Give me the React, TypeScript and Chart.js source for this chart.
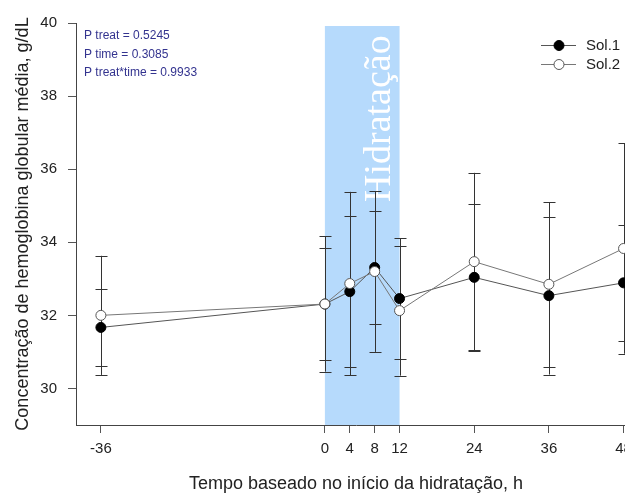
import React, { useEffect, useRef } from "react";
import { Chart, registerables } from "chart.js";

Chart.register(...registerables);

// ---- data ----
const hours = [-36, 0, 4, 8, 12, 24, 36, 48];
const sol1Mean = [31.67, 32.31, 32.65, 33.31, 32.46, 33.04, 32.54, 32.89];
const sol1Sd = [1.06, 1.85, 2.07, 1.55, 1.65, 2.01, 2.16, 1.59];
const sol2Mean = [32.0, 32.31, 32.87, 33.2, 32.13, 33.47, 32.85, 33.83];
const sol2Sd = [1.63, 1.54, 2.51, 2.2, 1.78, 2.43, 2.25, 2.88];
const seriesLabels = ["Sol.1", "Sol.2"];
const xTicks = [-36, 0, 4, 8, 12, 24, 36, 48];
const yTicks = [30, 32, 34, 36, 38, 40];
const hydrationWindow = [0, 12];
const hydrationLabel = "Hidratação";
const pValueLines = ["P treat = 0.5245", "P time = 0.3085", "P treat*time = 0.9933"];
const xTitle = "Tempo baseado no início da hidratação, h";
const yTitle = "Concentração de hemoglobina globular média, g/dL";

const SANS = '"Liberation Sans", Arial, sans-serif';
const SERIF = '"Liberation Serif", "Times New Roman", serif';
const errors = [sol1Sd, sol2Sd];
const means = [sol1Mean, sol2Mean];

const backdropPlugin = {
  id: "backdrop",
  beforeDatasetsDraw(chart: any) {
    const { ctx, chartArea, scales } = chart;
    const xs = scales.x;
    const ys = scales.y;
    const x0 = xs.getPixelForValue(hydrationWindow[0]);
    const x1 = xs.getPixelForValue(hydrationWindow[1]);
    ctx.save();
    // hydration band
    ctx.fillStyle = "#b6dafc";
    ctx.fillRect(x0, chartArea.top + 3, x1 - x0, chartArea.bottom - chartArea.top - 3);
    // band label
    ctx.save();
    ctx.translate(x1 - 10, chartArea.top + 179);
    ctx.rotate(-Math.PI / 2);
    ctx.font = `38px ${SERIF}`;
    ctx.fillStyle = "#ffffff";
    ctx.textAlign = "left";
    ctx.textBaseline = "alphabetic";
    ctx.fillText(hydrationLabel, 0, 0);
    ctx.restore();
    // error bars
    ctx.strokeStyle = "#333333";
    ctx.lineWidth = 1;
    chart.data.datasets.forEach((ds: any, di: number) => {
      const meta = chart.getDatasetMeta(di);
      meta.data.forEach((pt: any, j: number) => {
        const x = Math.round(pt.x) + 0.5;
        const yt = ys.getPixelForValue(means[di][j] + errors[di][j]);
        const yb = ys.getPixelForValue(means[di][j] - errors[di][j]);
        ctx.beginPath();
        ctx.moveTo(x, yt);
        ctx.lineTo(x, yb);
        ctx.moveTo(x - 6, Math.round(yt) + 0.5);
        ctx.lineTo(x + 6, Math.round(yt) + 0.5);
        ctx.moveTo(x - 6, Math.round(yb) + 0.5);
        ctx.lineTo(x + 6, Math.round(yb) + 0.5);
        ctx.stroke();
      });
    });
    ctx.restore();
  },
  afterDraw(chart: any) {
    const { ctx } = chart;
    ctx.save();
    // p-value annotation
    ctx.font = `12px ${SANS}`;
    ctx.fillStyle = "#33338f";
    ctx.textAlign = "left";
    ctx.textBaseline = "middle";
    pValueLines.forEach((t, i) => ctx.fillText(t, 84, 36 + i * 18.5));
    // legend
    chart.data.datasets.forEach((ds: any, i: number) => {
      const y = 45.5 + i * 19;
      ctx.strokeStyle = ds.borderColor;
      ctx.lineWidth = 1;
      ctx.beginPath();
      ctx.moveTo(541, y);
      ctx.lineTo(576, y);
      ctx.stroke();
      ctx.beginPath();
      ctx.arc(559, y, 5, 0, Math.PI * 2);
      ctx.fillStyle = ds.pointBackgroundColor;
      ctx.fill();
      ctx.strokeStyle = ds.pointBorderColor;
      ctx.stroke();
      ctx.font = `15px ${SANS}`;
      ctx.fillStyle = "#222222";
      ctx.textBaseline = "middle";
      ctx.fillText(ds.label, 586, y);
    });
    ctx.restore();
  },
};

export default function App() {
  const ref = useRef<HTMLCanvasElement | null>(null);
  useEffect(() => {
    if (!ref.current) return;
    const chart = new Chart(ref.current, {
      type: "line",
      data: {
        datasets: [
          {
            label: seriesLabels[0],
            data: hours.map((h, i) => ({ x: h, y: sol1Mean[i] })),
            borderColor: "#555555",
            borderWidth: 1,
            pointRadius: 5,
            pointBackgroundColor: "#000000",
            pointBorderColor: "#000000",
            pointBorderWidth: 1,
            tension: 0,
            order: 1,
          },
          {
            label: seriesLabels[1],
            data: hours.map((h, i) => ({ x: h, y: sol2Mean[i] })),
            borderColor: "#777777",
            borderWidth: 1,
            pointRadius: 5,
            pointBackgroundColor: "#ffffff",
            pointBorderColor: "#555555",
            pointBorderWidth: 1,
            tension: 0,
            order: 0,
          },
        ],
      },
      options: {
        animation: false,
        responsive: false,
        devicePixelRatio: 1,
        layout: { padding: { top: 23, right: 14, left: 0, bottom: 0 } },
        plugins: { legend: { display: false }, tooltip: { enabled: false } },
        scales: {
          x: {
            type: "linear",
            min: -40,
            max: 50,
            afterBuildTicks: (s: any) => {
              s.ticks = xTicks.map((v) => ({ value: v }));
            },
            afterFit: (s: any) => {
              s.height = 70;
            },
            grid: { drawOnChartArea: false, drawTicks: true, tickLength: 8, color: "#555555" },
            border: { display: true, color: "#444444", width: 1 },
            ticks: {
              font: { family: SANS, size: 15 },
              color: "#222222",
              padding: 7,
              maxRotation: 0,
              autoSkip: false,
            },
            title: {
              display: true,
              text: xTitle,
              font: { family: SANS, size: 18 },
              color: "#222222",
              padding: { top: 0, bottom: 0 },
            },
          },
          y: {
            min: 29,
            max: 40,
            afterBuildTicks: (s: any) => {
              s.ticks = yTicks.map((v) => ({ value: v }));
            },
            afterFit: (s: any) => {
              s.width = 76;
            },
            grid: { drawOnChartArea: false, drawTicks: true, tickLength: 8, color: "#555555" },
            border: { display: true, color: "#444444", width: 1 },
            ticks: {
              font: { family: SANS, size: 15 },
              color: "#222222",
              padding: 11,
            },
            title: {
              display: true,
              text: yTitle,
              font: { family: SANS, size: 18 },
              color: "#222222",
              padding: { top: 12, bottom: 0 },
            },
          },
        },
      },
      plugins: [backdropPlugin],
    } as any);
    return () => chart.destroy();
  }, []);
  return (
    <div
      style={{
        position: "fixed",
        left: 0,
        top: 0,
        width: 625,
        height: 495,
        overflow: "hidden",
        background: "#ffffff",
      }}
    >
      <canvas ref={ref} width={650} height={495} style={{ width: 650, height: 495, display: "block" }} />
    </div>
  );
}
